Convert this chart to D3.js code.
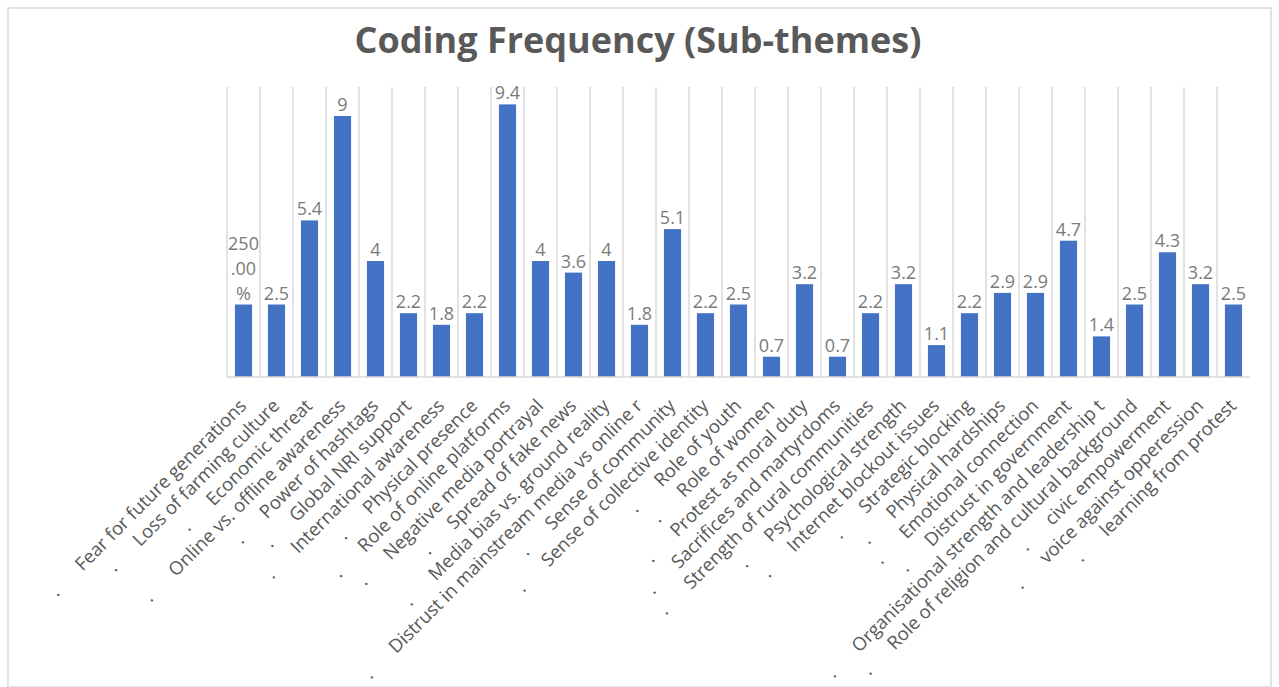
<!DOCTYPE html>
<html>
<head>
<meta charset="utf-8">
<script src="https://cdn.jsdelivr.net/npm/d3@7"></script>
<style>
  html, body { margin: 0; padding: 0; background: #fff; }
  svg { display: block; }
</style>
</head>
<body>
<svg id="chart" width="1279" height="687"></svg>
<script>
// Sub-theme names (two long ones are cut short, as in the source sheet)
const categories = [
  "Fear for future generations",
  "Loss of farming culture",
  "Economic threat",
  "Online vs. offline awareness",
  "Power of hashtags",
  "Global NRI support",
  "International awareness",
  "Physical presence",
  "Role of online platforms",
  "Negative media portrayal",
  "Spread of fake news",
  "Media bias vs. ground reality",
  "Distrust in mainstream media vs online r",
  "Sense of community",
  "Sense of collective identity",
  "Role of youth",
  "Role of women",
  "Protest as moral duty",
  "Sacrifices and martyrdoms",
  "Strength of rural communities",
  "Psychological strength",
  "Internet blockout issues",
  "Strategic blocking",
  "Physical hardships",
  "Emotional connection",
  "Distrust in government",
  "Organisational strength and leadership t",
  "Role of religion and cultural background",
  "civic empowerment",
  "voice against opperession",
  "learning from protest"
];

// Coding frequency per sub-theme
const values = [
  2.5, 2.5, 5.4, 9, 4, 2.2, 1.8, 2.2, 9.4, 4,
  3.6, 4, 1.8, 5.1, 2.2, 2.5, 0.7, 3.2, 0.7, 2.2,
  3.2, 1.1, 2.2, 2.9, 2.9, 4.7, 1.4, 2.5, 4.3, 3.2, 2.5
];

// Number format of each data label (the first cell was formatted as a percentage)
const labelFormats = [".2%"];
const defaultFormat = "~g";

const valueDomain = [0, 10];
const titleText = "Coding Frequency (Sub-themes)";

const svg = d3.select("#chart");
const W = 1279, H = 687;
const plot = { left: 227, right: 1250, top: 87, bottom: 377 };

const FONT = "'Open Sans', 'Segoe UI', sans-serif";
const BAR = "#4472C4";
const GRID = "#d9d9d9";
const TEXT_DARK = "#595959";
const TEXT_LABEL = "#7b7b7b";

// chart frame
svg.append("rect")
  .attr("x", 8).attr("y", 8)
  .attr("width", W - 16).attr("height", H - 8)
  .attr("fill", "#fff")
  .attr("stroke", GRID).attr("stroke-width", 1.5);

// title
svg.append("text")
  .attr("x", 638).attr("y", 53)
  .attr("text-anchor", "middle")
  .attr("font-family", FONT)
  .attr("font-weight", 700)
  .attr("font-size", 36)
  .attr("fill", TEXT_DARK)
  .text(titleText);

const x = d3.scaleBand()
  .domain(categories)
  .range([plot.left, plot.right])
  .paddingInner(0.48)
  .paddingOuter(0.24);

const y = d3.scaleLinear()
  .domain(valueDomain)
  .range([plot.bottom, plot.top]);

const step = x.step();
const gap = (step - x.bandwidth()) / 2;

// vertical gridlines at the left edge of every category slot
svg.append("g")
  .selectAll("line")
  .data(categories)
  .join("line")
  .attr("x1", d => x(d) - gap)
  .attr("x2", d => x(d) - gap)
  .attr("y1", y(valueDomain[1]))
  .attr("y2", y(0))
  .attr("stroke", GRID)
  .attr("stroke-width", 1.5);

// bars
svg.append("g")
  .selectAll("rect")
  .data(values)
  .join("rect")
  .attr("x", (d, i) => x(categories[i]))
  .attr("width", x.bandwidth())
  .attr("y", d => y(d))
  .attr("height", d => y(0) - y(d))
  .attr("fill", BAR);

// category axis line
svg.append("line")
  .attr("x1", plot.left).attr("x2", plot.right)
  .attr("y1", y(0)).attr("y2", y(0))
  .attr("stroke", GRID)
  .attr("stroke-width", 1.5);

// data labels, wrapped character by character when wider than a slot
const labelSize = 18;
const lineGap = 25;
const measurer = svg.append("text")
  .attr("font-family", FONT).attr("font-size", labelSize)
  .attr("visibility", "hidden");
function textWidth(s) {
  measurer.text(s);
  return measurer.node().getComputedTextLength();
}
function wrapChars(s, maxW) {
  const lines = [];
  let cur = "";
  for (const ch of s) {
    if (cur && textWidth(cur + ch) > maxW) { lines.push(cur); cur = ch; }
    else cur += ch;
  }
  if (cur) lines.push(cur);
  return lines;
}

const labelG = svg.append("g");
values.forEach((v, i) => {
  const fmt = d3.format(labelFormats[i] || defaultFormat);
  const lines = wrapChars(fmt(v), step);
  const cx = x(categories[i]) + x.bandwidth() / 2;
  const base = y(v) - 5;
  const t = labelG.append("text")
    .attr("text-anchor", "middle")
    .attr("font-family", FONT)
    .attr("font-size", labelSize)
    .attr("fill", TEXT_LABEL);
  lines.forEach((ln, k) => {
    t.append("tspan")
      .attr("x", cx)
      .attr("y", base - (lines.length - 1 - k) * lineGap)
      .text(ln);
  });
});
measurer.remove();

// rotated category labels, each led by a stray "." from the source cells
const tickG = svg.append("g");
categories.forEach((c) => {
  const cx = x(c) + x.bandwidth() / 2;
  const t = tickG.append("text")
    .attr("transform", `translate(${cx + 4},${plot.bottom + 30}) rotate(-45)`)
    .attr("text-anchor", "end")
    .attr("font-family", FONT)
    .attr("font-size", 18.5)
    .attr("fill", TEXT_DARK);
  t.append("tspan").text(".");
  t.append("tspan").attr("dx", 31).text(c);
});
</script>
</body>
</html>
